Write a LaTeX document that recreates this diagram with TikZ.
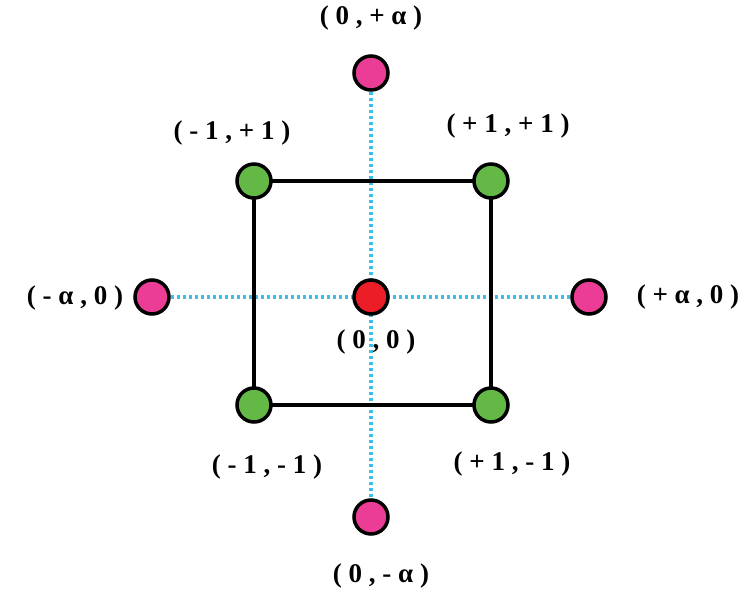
\documentclass[tikz,border=0pt]{standalone}
\usepackage{fontspec}
\setmainfont{Liberation Serif}
\begin{document}
\begin{tikzpicture}[x=1pt,y=-1pt,
  dot/.style={circle,draw=black,line width=3.5pt,minimum size=34pt,inner sep=0pt},
  lab/.style={font=\bfseries\fontsize{27}{30}\selectfont},
  axis/.style={draw={rgb,255:red,60;green,190;blue,235},line width=3.5pt,dash pattern=on 3pt off 3pt}]
\definecolor{gr}{RGB}{100,185,70}
\definecolor{pk}{RGB}{235,60,150}
\definecolor{rd}{RGB}{235,30,40}
\useasboundingbox (0,0) rectangle (753,593);
\coordinate (c) at (371,297);
\node[dot,fill=pk] (t) at (371,73) {};
\node[dot,fill=pk] (b) at (371,517) {};
\node[dot,fill=pk] (l) at (152,297) {};
\node[dot,fill=pk] (r) at (589,297) {};
\draw[axis] (t) -- (b);
\draw[axis] (l) -- (r);
\coordinate (a1) at (254,181); \coordinate (a2) at (491,181);
\coordinate (a3) at (491,405); \coordinate (a4) at (254,405);
\draw[line width=3.5pt] (a1) -- (a2) -- (a3) -- (a4) -- cycle;
\node[dot,fill=gr] (nw) at (a1) {};
\node[dot,fill=gr] (ne) at (a2) {};
\node[dot,fill=gr] (se) at (a3) {};
\node[dot,fill=gr] (sw) at (a4) {};
\node[dot,fill=rd] (o) at (c) {};
\node[lab] at (371,18) {( 0 , + α )};
\node[lab] at (232,133) {( - 1 , + 1 )};
\node[lab] at (508,126) {( + 1 , + 1 )};
\node[lab] at (75,298) {( - α , 0 )};
\node[lab] at (688,297) {( + α , 0 )};
\node[lab] at (376,342) {( 0 , 0 )};
\node[lab] at (267,467) {( - 1 , - 1 )};
\node[lab] at (512,464) {( + 1 , - 1 )};
\node[lab] at (381,576) {( 0 , - α )};
\end{tikzpicture}
\end{document}
